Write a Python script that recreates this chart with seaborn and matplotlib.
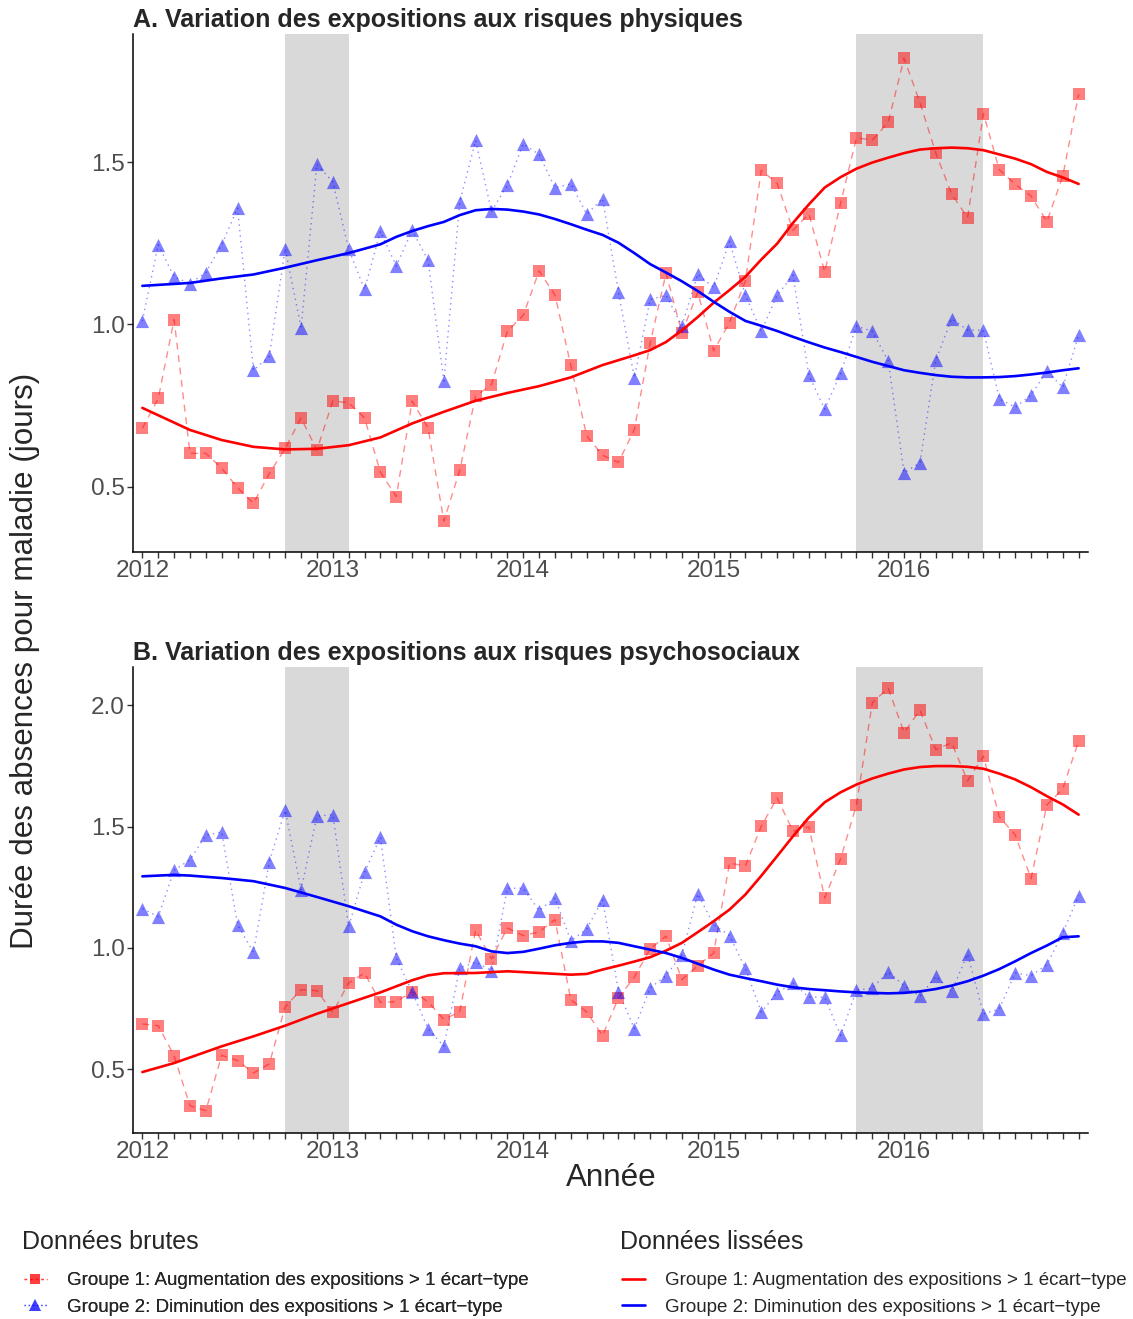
import numpy as np
import pandas as pd
import matplotlib
matplotlib.use("Agg")
import matplotlib.pyplot as plt
import seaborn as sns
from matplotlib.lines import Line2D

# ---------------- data ----------------
months = list(range(60))                      # Jan 2012 .. Dec 2016
year_ticks = [2012, 2013, 2014, 2015, 2016]
shade_periods = [(2012.75, 2013.0833), (2015.75, 2016.4167)]

a_g1 = [0.680, 0.772, 1.015, 0.603, 0.603, 0.557, 0.497, 0.449, 0.541, 0.618,
        0.712, 0.613, 0.764, 0.759, 0.712, 0.545, 0.470, 0.764, 0.682, 0.394,
        0.551, 0.779, 0.815, 0.979, 1.028, 1.165, 1.091, 0.874, 0.657, 0.597,
        0.575, 0.676, 0.943, 1.158, 0.974, 1.099, 0.919, 1.006, 1.134, 1.475,
        1.435, 1.290, 1.341, 1.162, 1.374, 1.575, 1.568, 1.623, 1.820, 1.684,
        1.528, 1.402, 1.329, 1.650, 1.477, 1.432, 1.396, 1.317, 1.457, 1.709]
a_g2 = [1.011, 1.246, 1.147, 1.126, 1.160, 1.246, 1.359, 0.859, 0.902, 1.234,
        0.990, 1.494, 1.439, 1.232, 1.108, 1.287, 1.180, 1.290, 1.198, 0.826,
        1.377, 1.567, 1.349, 1.429, 1.557, 1.524, 1.421, 1.434, 1.340, 1.388,
        1.100, 0.836, 1.077, 1.090, 0.996, 1.155, 1.114, 1.256, 1.090, 0.979,
        1.090, 1.152, 0.844, 0.739, 0.849, 0.995, 0.979, 0.888, 0.543, 0.574,
        0.890, 1.018, 0.983, 0.982, 0.771, 0.745, 0.782, 0.857, 0.806, 0.968]
b_g1 = [0.687, 0.680, 0.556, 0.350, 0.330, 0.558, 0.536, 0.485, 0.523, 0.758,
        0.828, 0.824, 0.735, 0.856, 0.897, 0.776, 0.779, 0.820, 0.779, 0.705,
        0.738, 1.073, 0.955, 1.082, 1.051, 1.066, 1.117, 0.787, 0.736, 0.639,
        0.794, 0.880, 0.996, 1.049, 0.870, 0.927, 0.979, 1.350, 1.337, 1.501,
        1.618, 1.481, 1.499, 1.206, 1.367, 1.589, 2.010, 2.070, 1.887, 1.979,
        1.817, 1.845, 1.688, 1.790, 1.540, 1.466, 1.286, 1.589, 1.655, 1.853]
b_g2 = [1.162, 1.129, 1.320, 1.363, 1.464, 1.478, 1.095, 0.982, 1.356, 1.567,
        1.240, 1.543, 1.549, 1.089, 1.312, 1.456, 0.959, 0.819, 0.668, 0.595,
        0.918, 0.941, 0.907, 1.246, 1.246, 1.154, 1.206, 1.030, 1.078, 1.199,
        0.820, 0.668, 0.835, 0.886, 0.973, 1.223, 1.096, 1.051, 0.916, 0.736,
        0.815, 0.856, 0.798, 0.797, 0.640, 0.826, 0.835, 0.901, 0.845, 0.801,
        0.883, 0.821, 0.975, 0.728, 0.749, 0.897, 0.886, 0.931, 1.062, 1.216]

# smoothed curves (month index, value)
a_s1_m = [0, 3, 5, 7, 9, 11, 13, 15, 17, 19, 21, 23, 25, 27, 29, 31] + list(range(32, 60))
a_s1_v = [0.743, 0.675, 0.644, 0.623, 0.615, 0.617, 0.628, 0.652, 0.695, 0.731,
          0.765, 0.789, 0.810, 0.837, 0.875, 0.905,
          0.921, 0.946, 0.982, 1.023, 1.067, 1.106, 1.147, 1.200, 1.249, 1.313,
          1.370, 1.422, 1.454, 1.480, 1.499, 1.514, 1.528, 1.539, 1.543, 1.545,
          1.543, 1.537, 1.524, 1.511, 1.494, 1.470, 1.453, 1.433]
a_s2_m = [0, 3, 5, 7, 9, 11, 13, 15] + list(range(16, 60))
a_s2_v = [1.119, 1.128, 1.142, 1.154, 1.175, 1.198, 1.220, 1.247,
          1.270, 1.288, 1.303, 1.316, 1.337, 1.352, 1.356, 1.354, 1.348, 1.339,
          1.325, 1.309, 1.292, 1.276, 1.252, 1.220, 1.186, 1.160, 1.133, 1.103,
          1.070, 1.039, 1.011, 0.996, 0.980, 0.962, 0.945, 0.929, 0.915, 0.900,
          0.885, 0.872, 0.859, 0.851, 0.844, 0.839, 0.837, 0.837, 0.838, 0.841,
          0.846, 0.852, 0.859, 0.865]
b_s1_m = [0, 2, 3, 5, 7, 9, 11, 13, 15, 17, 18, 19, 21, 23, 25, 27] + list(range(28, 60))
b_s1_v = [0.489, 0.526, 0.549, 0.595, 0.636, 0.680, 0.729, 0.773, 0.817, 0.867,
          0.887, 0.896, 0.897, 0.904, 0.897, 0.890,
          0.893, 0.911, 0.927, 0.944, 0.962, 0.989, 1.021, 1.065, 1.110, 1.158,
          1.220, 1.297, 1.378, 1.460, 1.537, 1.600, 1.641, 1.673, 1.698, 1.718,
          1.735, 1.745, 1.749, 1.749, 1.746, 1.738, 1.718, 1.694, 1.662, 1.625,
          1.591, 1.549]
b_s2_m = [0, 2, 3, 5, 7, 9, 11, 13] + list(range(14, 60))
b_s2_v = [1.295, 1.301, 1.298, 1.288, 1.275, 1.247, 1.210, 1.172,
          1.151, 1.130, 1.096, 1.069, 1.048, 1.032, 1.018, 1.007, 0.986, 0.979,
          0.984, 0.997, 1.011, 1.021, 1.027, 1.027, 1.021, 1.007, 0.993, 0.979,
          0.959, 0.935, 0.911, 0.890, 0.876, 0.863, 0.849, 0.838, 0.831, 0.826,
          0.821, 0.817, 0.815, 0.813, 0.815, 0.821, 0.831, 0.845, 0.863, 0.886,
          0.913, 0.945, 0.979, 1.010, 1.044, 1.048]

titles = ["A. Variation des expositions aux risques physiques",
          "B. Variation des expositions aux risques psychosociaux"]
y_label = "Durée des absences pour maladie (jours)"
x_label = "Année"
legend_raw_title = "Données brutes"
legend_smooth_title = "Données lissées"
group_labels = ["Groupe 1: Augmentation des expositions > 1 écart\u2212type",
                "Groupe 2: Diminution des expositions > 1 écart\u2212type"]
a_yticks = [0.5, 1.0, 1.5]
b_yticks = [0.5, 1.0, 1.5, 2.0]

# ---------------- style ----------------
sns.set_style("ticks")
plt.rcParams['font.family'] = ['Liberation Sans', 'DejaVu Sans']

RED = "#FF0000"
BLUE = "#0000FF"
TICK_COL = "#4D4D4D"

W, H = 1133, 1319
fig = plt.figure(figsize=(W / 100, H / 100), dpi=100)

def fx(px):
    return px / W

def fy(py):
    return 1 - py / H

axA = fig.add_axes([fx(133), fy(552), fx(1088) - fx(133), fy(34) - fy(552)])
axB = fig.add_axes([fx(133), fy(1133), fx(1088) - fx(133), fy(667) - fy(1133)])

def to_year(m):
    return 2012 + np.asarray(m) / 12.0

panels = [
    (axA, a_g1, a_g2, (a_s1_m, a_s1_v), (a_s2_m, a_s2_v), a_yticks, (0.299, 1.895), titles[0]),
    (axB, b_g1, b_g2, (b_s1_m, b_s1_v), (b_s2_m, b_s2_v), b_yticks, (0.238, 2.157), titles[1]),
]

for ax, g1, g2, s1, s2, yt, ylim, title in panels:
    for x0, x1 in shade_periods:
        ax.axvspan(x0, x1, color="#D9D9D9", lw=0, zorder=0)
    raw = pd.DataFrame({"annee": to_year(months), "g1": g1, "g2": g2})
    sm1 = pd.DataFrame({"annee": to_year(s1[0]), "v": s1[1]})
    sm2 = pd.DataFrame({"annee": to_year(s2[0]), "v": s2[1]})

    sns.lineplot(data=raw, x="annee", y="g1", ax=ax, color=RED, alpha=0.45,
                 linewidth=1.0, linestyle=(0, (5, 4)), zorder=2)
    sns.lineplot(data=raw, x="annee", y="g2", ax=ax, color=BLUE, alpha=0.45,
                 linewidth=1.0, linestyle=(0, (1, 3)), zorder=2)
    sns.scatterplot(data=raw, x="annee", y="g1", ax=ax, color=RED, alpha=0.5,
                    marker="s", s=70, linewidth=0, zorder=3)
    sns.scatterplot(data=raw, x="annee", y="g2", ax=ax, color=BLUE, alpha=0.5,
                    marker="^", s=90, linewidth=0, zorder=3)
    sns.lineplot(data=sm1, x="annee", y="v", ax=ax, color=RED, linewidth=1.9, zorder=4)
    sns.lineplot(data=sm2, x="annee", y="v", ax=ax, color=BLUE, linewidth=1.9, zorder=4)

    ax.set_xlim(2012 - 0.0492, 2012 + 59 / 12 + 0.0492)
    ax.set_ylim(*ylim)
    ax.set_xticks(to_year(months))
    ax.set_xticklabels([str(2012 + m // 12) if m % 12 == 0 else "" for m in months])
    ax.set_yticks(yt)
    ax.set_yticklabels([f"{v:.1f}" for v in yt])
    ax.tick_params(axis="both", length=4, width=1, color="#333333",
                   labelsize=17.5, labelcolor=TICK_COL, pad=2)
    ax.set_xlabel("")
    ax.set_ylabel("")
    for sp in ["top", "right"]:
        ax.spines[sp].set_visible(False)
    for sp in ["left", "bottom"]:
        ax.spines[sp].set_color("black")
        ax.spines[sp].set_linewidth(1.1)
    ax.set_facecolor("white")
    ax.set_title(title, loc="left", fontsize=18, fontweight="bold", pad=5, x=0.0)

fig.text(fx(25), fy(661), y_label, rotation=90, ha="center", va="center", fontsize=22.6)
fig.text(fx(611), fy(1178), x_label, ha="center", va="center", fontsize=22.6)

# ---------------- legends ----------------
fig.text(fx(22), fy(1242), legend_raw_title, ha="left", va="center", fontsize=18)
fig.text(fx(620), fy(1242), legend_smooth_title, ha="left", va="center", fontsize=18)

raw_handles = [
    Line2D([0], [0], color=RED, alpha=0.5, lw=1.0, ls=(0, (2, 2)), marker="s",
           markersize=7, markeredgewidth=0),
    Line2D([0], [0], color=BLUE, alpha=0.5, lw=1.0, ls=(0, (1, 2)), marker="^",
           markersize=8, markeredgewidth=0),
]
sm_handles = [
    Line2D([0], [0], color=RED, lw=1.9),
    Line2D([0], [0], color=BLUE, lw=1.9),
]
common = dict(loc="upper left", frameon=False, fontsize=13.5, borderpad=0,
              borderaxespad=0, handlelength=1.2, handletextpad=1.1, labelspacing=0.5)
leg1 = fig.legend(raw_handles, group_labels, bbox_to_anchor=(fx(24), fy(1272)), **common)
leg2 = fig.legend(sm_handles, group_labels, bbox_to_anchor=(fx(622), fy(1272)), **common)
fig.add_artist(leg1)

fig.savefig("out.png", dpi=100, facecolor="white")
